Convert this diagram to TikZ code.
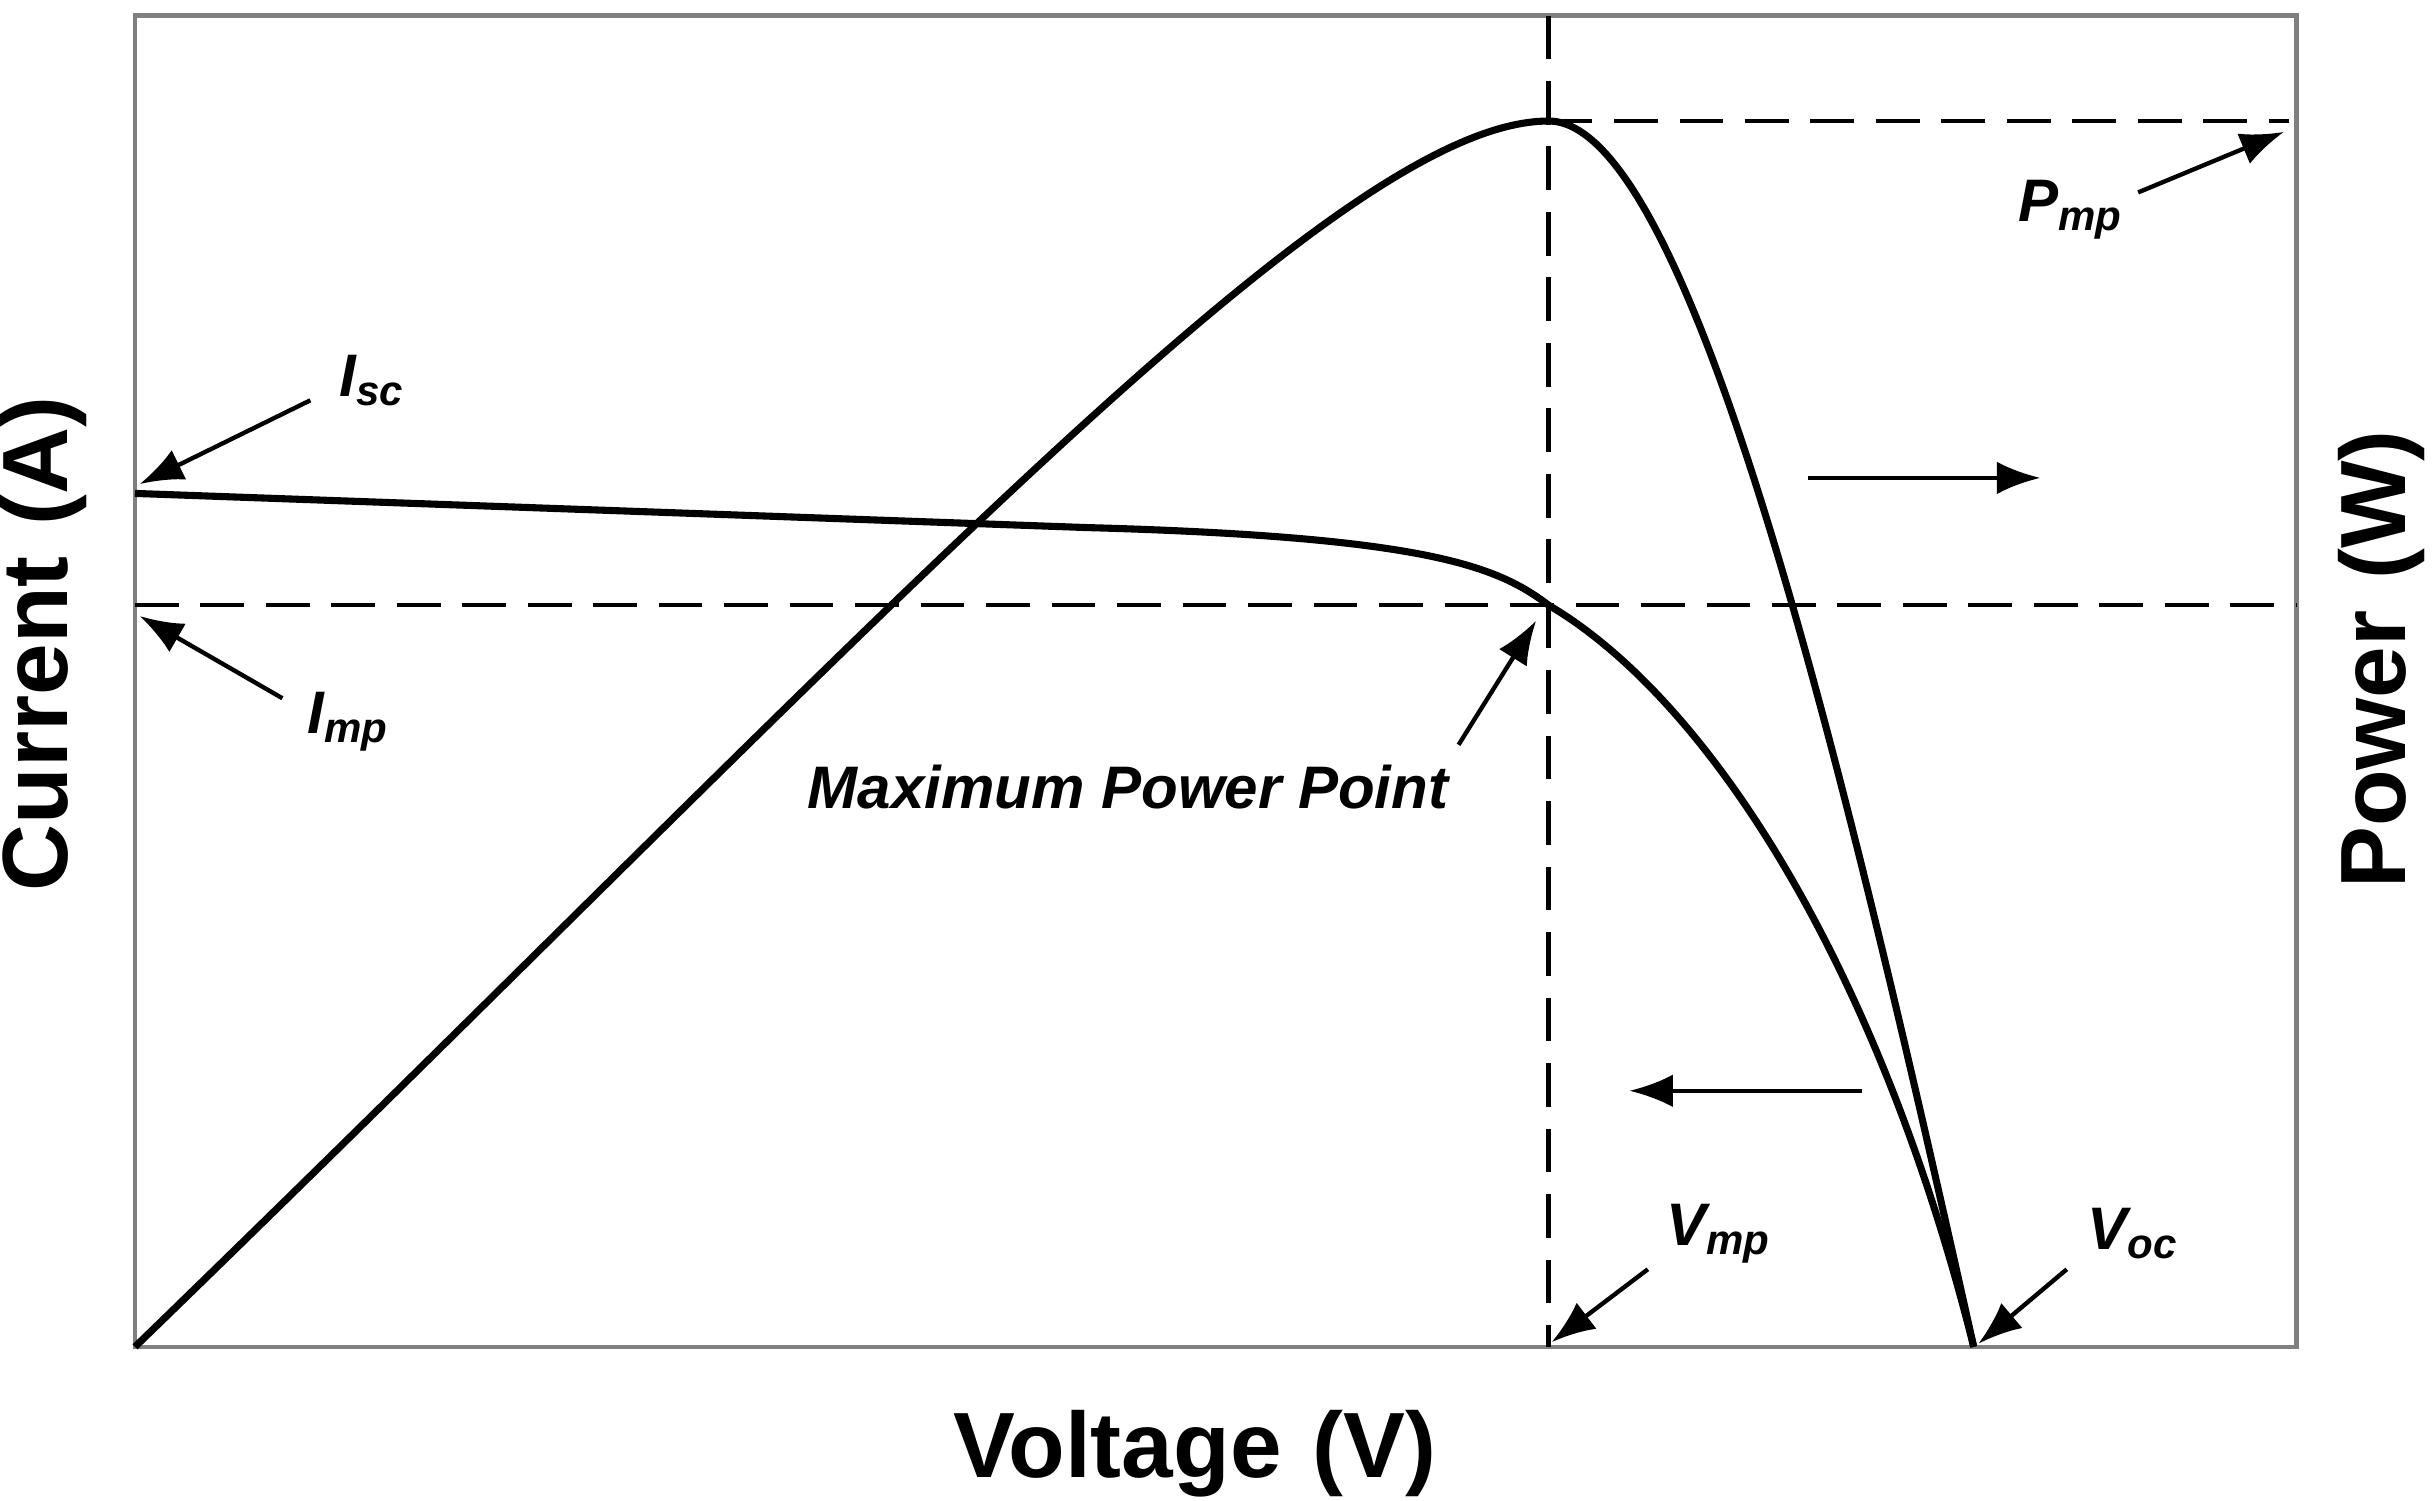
\documentclass[tikz,border=0pt]{standalone}
\usepackage{fontspec}
\setmainfont{Liberation Sans}
\usetikzlibrary{arrows.meta}
\begin{document}
\begin{tikzpicture}[x=0.01cm,y=-0.01cm,
  curve/.style={line width=1.3pt},
  dsh/.style={dashed,dash pattern=on 8pt off 4pt,line width=0.8pt},
  ptr/.style={line width=0.8pt,-{Latex[length=8pt,width=6pt]}},
  lbl/.style={font=\bfseries\itshape\fontsize{11}{13}\selectfont},
  axl/.style={font=\bfseries\fontsize{17}{20}\selectfont}]
\useasboundingbox (0,0) rectangle (1568,967);
\draw[gray,line width=0.8pt] (87,10) rectangle (1480,868);
\coordinate (pk) at (998,78);
\draw[dsh] (998,10) -- (998,868);
\draw[dsh] (87,390) -- (1480,390);
\draw[dsh] (pk) -- (1475,78);
\draw[curve] (87,868) .. controls (560,410) and (860,78) .. (pk)
  .. controls (1090,78) and (1190,500) .. (1272,868);
\draw[curve] (87,318) -- (700,340) .. controls (920,346) and (965,365) .. (998,390)
  .. controls (1100,450) and (1210,620) .. (1272,868);
\node[lbl] (isc) at (240,245) {I\textsubscript{sc}};
\node[lbl] (imp) at (225,465) {I\textsubscript{mp}};
\node[lbl] (mpt) at (727,507) {Maximum Power Point};
\node[lbl] (pmp) at (1335,135) {P\textsubscript{mp}};
\node[lbl] (vmp) at (1108,795) {V\textsubscript{mp}};
\node[lbl] (voc) at (1375,795) {V\textsubscript{oc}};
\coordinate (iscE) at (90,312);
\coordinate (impE) at (90,397);
\coordinate (pmpE) at (1472,85);
\coordinate (vmpE) at (1000,865);
\coordinate (vocE) at (1275,866);
\draw[ptr] (200,258) -- (iscE);
\draw[ptr] (182,450) -- (impE);
\draw[ptr] (940,480) -- (990,400);
\draw[ptr] (1378,124) -- (pmpE);
\draw[ptr] (1062,818) -- (vmpE);
\draw[ptr] (1332,818) -- (vocE);
\coordinate (ra) at (1165,308); \coordinate (rb) at (1315,308);
\coordinate (la) at (1200,703); \coordinate (lb) at (1050,703);
\draw[ptr] (ra) -- (rb);
\draw[ptr] (la) -- (lb);
\node[axl,rotate=90] (cur) at (28,415) {Current\,\,(A)};
\node[axl,rotate=90] (pow) at (1535,425) {Power\,\,(W)};
\node[axl] (vol) at (770,937) {Voltage\,\,(V)};
\end{tikzpicture}
\end{document}
